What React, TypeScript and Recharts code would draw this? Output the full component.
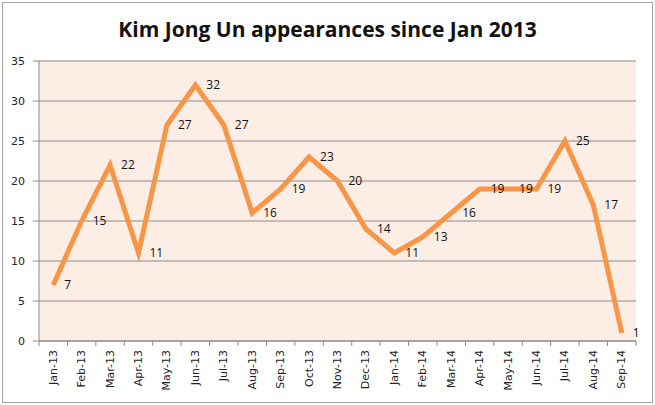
import React from "react";
import {
  LineChart,
  Line,
  XAxis,
  YAxis,
  CartesianGrid,
  LabelList,
} from "recharts";

const months = [
  "Jan-13", "Feb-13", "Mar-13", "Apr-13", "May-13", "Jun-13", "Jul-13",
  "Aug-13", "Sep-13", "Oct-13", "Nov-13", "Dec-13", "Jan-14", "Feb-14",
  "Mar-14", "Apr-14", "May-14", "Jun-14", "Jul-14", "Aug-14", "Sep-14",
];
const appearances = [
  7, 15, 22, 11, 27, 32, 27, 16, 19, 23, 20, 14, 11, 13, 16, 19, 19, 19, 25, 17, 1,
];
const yTicks = [0, 5, 10, 15, 20, 25, 30, 35];

// categories sit at i + 0.5 so the tick marks can fall between them
const data = months.map((m, i) => ({ x: i + 0.5, month: m, v: appearances[i] }));
const xTicks: number[] = [];
for (let i = 0; i <= months.length * 2; i++) xTicks.push(i / 2);

const GRID = "#8a8a8a";

function MonthTick(props: any) {
  const { x, y, payload } = props;
  const val = payload.value as number;
  if (Number.isInteger(val)) {
    return <line x1={x} y1={y} x2={x} y2={y + 5} stroke={GRID} />;
  }
  const label = months[Math.floor(val)];
  return (
    <text
      x={x}
      y={y + 9}
      transform={`rotate(-90 ${x} ${y + 9})`}
      textAnchor="end"
      dominantBaseline="central"
      fontFamily="DejaVu Sans, Verdana, sans-serif"
      fontSize={11}
      fill="#222"
    >
      {label}
    </text>
  );
}

export default function App() {
  return (
    <div
      style={{
        position: "absolute",
        left: 0,
        top: 0,
        width: 655,
        height: 405,
        background: "#fff",
      }}
    >
      <div
        style={{
          position: "absolute",
          left: 2,
          top: 2,
          width: 649,
          height: 399,
          border: "1px solid #a6a6a6",
        }}
      />
      <div
        style={{
          position: "absolute",
          left: 0,
          top: 15,
          width: 655,
          textAlign: "center",
          fontFamily: "'Open Sans', sans-serif",
          fontWeight: 700,
          fontSize: 21,
          color: "#111",
        }}
      >
        Kim Jong Un appearances since Jan 2013
      </div>
      <LineChart
        width={655}
        height={405}
        data={data}
        margin={{ top: 61, right: 19, left: 0, bottom: 9 }}
      >
        <CartesianGrid
          vertical={false}
          stroke={GRID}
          fill="#fcede5"
          fillOpacity={1}
        />
        <XAxis
          dataKey="x"
          type="number"
          domain={[0, months.length]}
          ticks={xTicks}
          interval={0}
          tickLine={false}
          tickSize={0}
          tickMargin={0}
          height={55}
          stroke={GRID}
          tick={<MonthTick />}
        />
        <YAxis
          domain={[0, 35]}
          ticks={yTicks}
          interval={0}
          width={39}
          tickSize={6}
          tickMargin={8}
          stroke={GRID}
          tick={{ fill: "#222", fontSize: 11, fontFamily: "DejaVu Sans, Verdana, sans-serif" }}
        />
        <Line
          dataKey="v"
          stroke="#f79646"
          strokeWidth={5}
          dot={false}
          isAnimationActive={false}
          strokeLinejoin="miter"
        >
          <LabelList
            dataKey="v"
            position="right"
            offset={11}
            fill="#111"
            fontSize={12}
            fontFamily="'Open Sans', sans-serif"
          />
        </Line>
      </LineChart>
    </div>
  );
}
